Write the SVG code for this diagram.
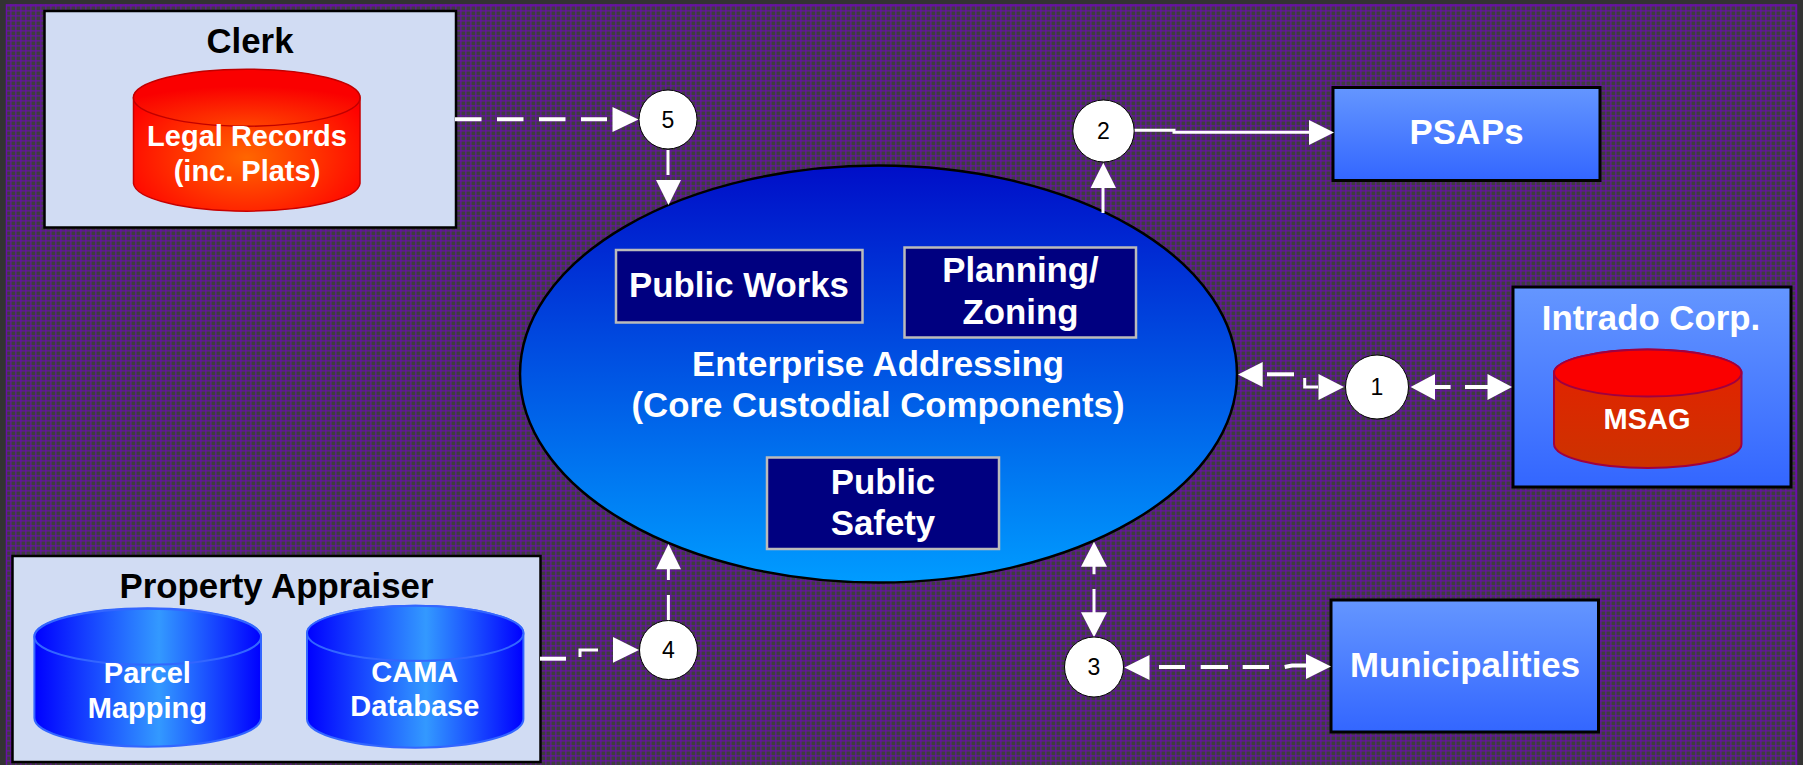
<svg xmlns="http://www.w3.org/2000/svg" width="1803" height="765" viewBox="0 0 1803 765">
<style>
text{font-family:"Liberation Sans",Arial,sans-serif;font-weight:700;text-anchor:middle;fill:#fff}
.t34{font-size:34.8px;transform:translateY(1px)}.t29{font-size:29px;transform:translateY(1px)}
.num{font-weight:400;font-size:23px;fill:#000}
.bubble{fill:#fff;stroke:#000;stroke-width:1}
.panel{fill:#d1dcf3;stroke:#000;stroke-width:2.5}
.blue{fill:url(#boxBlue);stroke:#000;stroke-width:3}
.unit{fill:#000080;stroke:#bbb;stroke-width:2.5}
.c{fill:none;stroke:#fff;stroke-width:4}
.c3{fill:none;stroke:#fff;stroke-width:3}
.h{fill:#fff}
</style>
<defs>
<pattern id="plaid" width="5" height="5" patternUnits="userSpaceOnUse">
<rect width="5" height="5" fill="#3e3e3e"/>
<rect x="0" width="1.6" height="5" fill="#6a10a8" opacity=".7"/>
<rect y="0" width="5" height="1.6" fill="#6a10a8" opacity=".7"/>
</pattern>
<linearGradient id="boxBlue" x1="0" y1="0" x2="0" y2="1"><stop offset="0" stop-color="#6496ff"/><stop offset="1" stop-color="#3366ff"/></linearGradient>
<linearGradient id="oval" x1="0" y1="0" x2="0" y2="1"><stop offset="0" stop-color="#000ec8"/><stop offset="1" stop-color="#009cff"/></linearGradient>
<radialGradient id="redGlow" cx=".5" cy=".62" r=".6"><stop offset="0" stop-color="#ff6600"/><stop offset="1" stop-color="#ff0000"/></radialGradient>
<radialGradient id="redTop" cx=".5" cy="1" r=".7"><stop offset="0" stop-color="#ff4400"/><stop offset="1" stop-color="#fa0000"/></radialGradient>
<linearGradient id="redBody" x1="0" y1="0" x2="0" y2="1"><stop offset="0" stop-color="#e62000"/><stop offset="1" stop-color="#cc3300"/></linearGradient>
<linearGradient id="cylBlue" x1="0" y1="0" x2="1" y2="0"><stop offset="0" stop-color="#0000ff"/><stop offset=".55" stop-color="#3399ff"/><stop offset="1" stop-color="#0000ff"/></linearGradient>
</defs>
<rect width="1803" height="765" fill="#333"/>
<rect x="6" y="4" width="1791" height="761" fill="url(#plaid)"/>
<path d="M6.500 765V5H1796.500V765" fill="none" stroke="#6a10a8" stroke-width="1.500"/>

<g id="enterprise">
<ellipse cx="878.500" cy="374" rx="358.500" ry="208.500" fill="url(#oval)" stroke="#000" stroke-width="2.500"/>
<text class="t34" x="878" y="375">Enterprise Addressing</text>
<text class="t34" x="878" y="416">(Core Custodial Components)</text>
</g>
<g id="public-works"><rect class="unit" x="616" y="250" width="246.500" height="72.500"/><text class="t34" x="739" y="296">Public Works</text></g>
<g id="planning"><rect class="unit" x="904.500" y="247.500" width="231.500" height="90"/><text class="t34" x="1020.500" y="281">Planning/</text><text class="t34" x="1020.500" y="323">Zoning</text></g>
<g id="public-safety"><rect class="unit" x="767" y="457.500" width="232" height="91.500"/><text class="t34" x="883" y="492.500">Public</text><text class="t34" x="883" y="534">Safety</text></g>

<g id="clerk">
<rect class="panel" x="44.500" y="11" width="411.500" height="216.500"/>
<text class="t34" x="250" y="52" style="fill:#000">Clerk</text>
<path d="M133.500 97.700A113.300 28.500 0 0 1 360 97.700V183.500A113.300 28.500 0 0 1 133.500 183.500Z" fill="url(#redGlow)" stroke="#c80000" stroke-width="1.500"/>
<ellipse cx="246.700" cy="97.700" rx="113.300" ry="28.500" fill="url(#redTop)" stroke="#c00000" stroke-width="1.500"/>
<text class="t29" x="247" y="145">Legal Records</text>
<text class="t29" x="247" y="180">(inc. Plats)</text>
</g>
<g id="psaps"><rect class="blue" x="1333" y="87.500" width="267" height="93"/><text class="t34" x="1466.500" y="143">PSAPs</text></g>
<g id="intrado">
<rect class="blue" x="1513" y="287" width="278" height="200"/>
<text class="t34" x="1651" y="329">Intrado Corp.</text>
<path d="M1554 373A93.700 23.500 0 0 1 1741.500 373V444A93.700 24 0 0 1 1554 444Z" fill="url(#redBody)" stroke="#a00040" stroke-width="2"/>
<ellipse cx="1647.700" cy="373" rx="93.700" ry="23.500" fill="#fa0000" stroke="#a00040" stroke-width="2"/>
<text class="t29" x="1647" y="427.700">MSAG</text>
</g>
<g id="municipalities"><rect class="blue" x="1331" y="600" width="267.500" height="132"/><text class="t34" x="1465" y="676">Municipalities</text></g>
<g id="property-appraiser">
<rect class="panel" x="12.500" y="556" width="528" height="206"/>
<text class="t34" x="276.500" y="597" style="fill:#000">Property Appraiser</text>
<path d="M34.400 636.700A113.300 28.500 0 0 1 261 636.700V718A113.300 28.700 0 0 1 34.400 718Z" fill="url(#cylBlue)" stroke="#3366ff" stroke-width="2"/>
<ellipse cx="147.700" cy="636.700" rx="113.300" ry="28" fill="url(#cylBlue)" stroke="#3366ff" stroke-width="2"/>
<text class="t29" x="147.400" y="682.300">Parcel</text><text class="t29" x="147.400" y="716.700">Mapping</text>
<path d="M307 633.300A108.200 27.500 0 0 1 523.400 633.300V719A108.200 28.700 0 0 1 307 719Z" fill="url(#cylBlue)" stroke="#3366ff" stroke-width="2"/>
<ellipse cx="415.200" cy="633.300" rx="108.200" ry="27.500" fill="url(#cylBlue)" stroke="#3366ff" stroke-width="2"/>
<text class="t29" x="414.800" y="680.700">CAMA</text><text class="t29" x="414.800" y="715.300">Database</text>
</g>

<g id="connectors">
<path class="c" d="M455 119.300H607" stroke-dasharray="26.500 15.500"/><path class="h" d="M612.500 107L638.500 119.500L612.500 132Z"/>
<path class="c3" d="M668 150V175"/><path class="h" d="M656 180H681L668.500 205Z"/>
<path class="c3" d="M1103 213V188"/><path class="h" d="M1090.600 188H1116L1103.300 162.700Z"/>
<path class="c3" d="M1134 130.300H1174V132.300H1309"/><path class="h" d="M1309 120L1334 132.500L1309 145Z"/>
<path class="h" d="M1238 374.600L1262.700 362V387Z"/><path class="c" d="M1267 374.300H1294"/>
<path class="c3" d="M1304.700 378V387H1318"/><path class="h" d="M1318.500 374L1344 387L1318.500 400Z"/>
<path class="h" d="M1410.600 387L1435 374V400Z"/><path class="c" d="M1435 387H1450.600M1465 387H1488"/><path class="h" d="M1487.500 374L1512 387L1487.500 400Z"/>
<path class="h" d="M1094 541.700L1107 566.700H1081Z"/><path class="c3" d="M1094 566V574.300M1094 589V613"/><path class="h" d="M1081 612.300H1107L1094 637.300Z"/>
<path class="h" d="M1124.400 667.500L1149.500 655V680Z"/><path class="c" d="M1159 667H1185M1200.700 667H1228M1242.700 667H1269M1284.700 667L1292 665.500H1306"/><path class="h" d="M1306 654L1331 666.500L1306 679Z"/>
<path class="c" d="M540 658.700H566"/><path class="c3" d="M580 657V650H598"/><path class="h" d="M613 637L639 650L613 662.700Z"/>
<path class="c3" d="M668.400 621V595M668.400 580V569"/><path class="h" d="M656 569.300H681L668.500 544Z"/>
</g>

<g id="step-1"><ellipse class="bubble" cx="1377" cy="387" rx="31.500" ry="32"/><text class="num" x="1377" y="395">1</text></g>
<g id="step-2"><ellipse class="bubble" cx="1103.500" cy="131" rx="30.700" ry="31"/><text class="num" x="1103.500" y="138.500">2</text></g>
<g id="step-3"><ellipse class="bubble" cx="1094" cy="667" rx="29.500" ry="30"/><text class="num" x="1094" y="674.500">3</text></g>
<g id="step-4"><ellipse class="bubble" cx="668.500" cy="650" rx="29" ry="29.500"/><text class="num" x="668.500" y="657.500">4</text></g>
<g id="step-5"><ellipse class="bubble" cx="668" cy="119.500" rx="29" ry="29.500"/><text class="num" x="668" y="127.500">5</text></g>
</svg>
